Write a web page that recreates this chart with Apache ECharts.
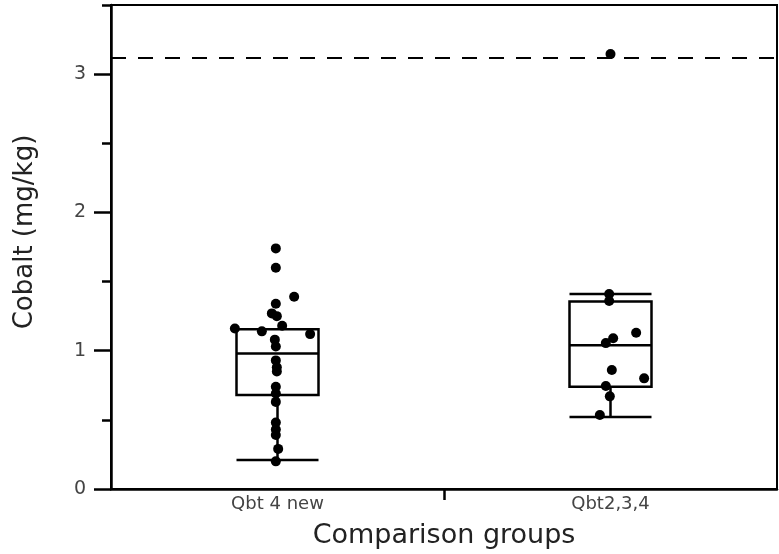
<!DOCTYPE html>
<html>
<head>
<meta charset="utf-8">
<script src="https://cdn.jsdelivr.net/npm/echarts@6/dist/echarts.min.js"></script>
<style>
  html, body { margin: 0; padding: 0; background: #fff; }
  #chart { width: 779px; height: 554px; }
</style>
</head>
<body>
<div id="chart"></div>
<script>
// groups on the x axis
const groups = ["Qbt 4 new", "Qbt2,3,4"];

// box statistics per group (mg/kg)
const whiskerLow = [0.21, 0.52];
const q1 = [0.68, 0.74];
const median = [0.98, 1.04];
const q3 = [1.155, 1.355];
const whiskerHigh = [1.155, 1.41];

// individual samples: jittered position (0..2 across the two groups) and value
const sampleX = [
  0.495, 0.495, 0.55, 0.495, 0.483, 0.498, 0.372, 0.453, 0.514, 0.598,
  0.492, 0.495, 0.495, 0.498, 0.498, 0.495, 0.495, 0.495, 0.495, 0.495,
  0.495, 0.502, 0.495,
  1.5, 1.496, 1.496, 1.577, 1.508, 1.486, 1.504, 1.601, 1.486, 1.498, 1.468
];
const sampleY = [
  1.74, 1.60, 1.39, 1.34, 1.27, 1.25, 1.16, 1.14, 1.18, 1.12,
  1.08, 1.03, 0.93, 0.88, 0.85, 0.74, 0.69, 0.63, 0.48, 0.43,
  0.39, 0.29, 0.20,
  3.145, 1.41, 1.36, 1.13, 1.09, 1.055, 0.86, 0.80, 0.745, 0.67, 0.535
];

// background level (dashed line)
const referenceLevel = 3.12;

// y tick values
const majorTicks = [0, 1, 2, 3];
const minorTicks = [0.5, 1.5, 2.5, 3.5];

const chart = echarts.init(document.getElementById("chart"));

const boxData = groups.map((g, i) => [whiskerLow[i], q1[i], median[i], q3[i], whiskerHigh[i]]);
const points = sampleX.map((x, i) => [x, sampleY[i]]);

chart.setOption({
  animation: false,
  backgroundColor: "#fff",
  grid: {
    left: 111,
    right: 2,
    top: 5,
    bottom: 65,
    show: true,
    borderColor: "#000",
    borderWidth: 2
  },
  xAxis: [
    {
      type: "category",
      position: "bottom",
      data: groups,
      axisLine: { lineStyle: { color: "#000", width: 2.5 } },
      axisTick: { show: false },
      axisLabel: {
        color: "#444",
        fontFamily: "DejaVu Sans",
        fontSize: 18,
        margin: 6
      },
      name: "Comparison groups",
      nameLocation: "middle",
      nameGap: 33,
      nameTextStyle: {
        color: "#222",
        fontFamily: "DejaVu Sans",
        fontSize: 27
      }
    },
    {
      type: "value",
      position: "bottom",
      min: 0,
      max: 2,
      interval: 1,
      axisLine: { show: false },
      axisTick: {
        show: true,
        customValues: [1],
        length: 11,
        lineStyle: { color: "#000", width: 2.5 }
      },
      axisLabel: { show: false },
      splitLine: { show: false }
    }
  ],
  yAxis: [
    {
      type: "value",
      position: "left",
      min: 0,
      max: 3.5,
      interval: 0.5,
      axisLine: { show: true, lineStyle: { color: "#000", width: 2.5 } },
      axisTick: {
        show: true,
        customValues: majorTicks,
        length: 17,
        lineStyle: { color: "#000", width: 2.5 }
      },
      axisLabel: {
        customValues: majorTicks,
        color: "#444",
        fontFamily: "DejaVu Sans",
        fontSize: 19,
        margin: 25
      },
      splitLine: { show: false },
      name: "Cobalt (mg/kg)",
      nameLocation: "middle",
      nameGap: 73,
      nameTextStyle: {
        color: "#222",
        fontFamily: "DejaVu Sans",
        fontSize: 26,
        padding: [0, 0, 0, 30]
      }
    },
    {
      type: "value",
      position: "left",
      min: 0,
      max: 3.5,
      interval: 0.5,
      axisLine: { show: false },
      axisTick: {
        show: true,
        customValues: minorTicks,
        length: 9,
        lineStyle: { color: "#000", width: 2.5 }
      },
      axisLabel: { show: false },
      splitLine: { show: false }
    }
  ],
  series: [
    {
      type: "boxplot",
      xAxisIndex: 0,
      yAxisIndex: 0,
      data: boxData,
      boxWidth: [82, 82],
      itemStyle: {
        color: "transparent",
        borderColor: "#000",
        borderWidth: 2.5
      },
      z: 2
    },
    {
      type: "scatter",
      xAxisIndex: 1,
      yAxisIndex: 0,
      data: points,
      symbolSize: 10,
      itemStyle: { color: "#000", opacity: 1 },
      z: 3,
      markLine: {
        silent: true,
        symbol: "none",
        label: { show: false },
        lineStyle: { color: "#000", width: 2, type: [15, 12] },
        data: [{ yAxis: referenceLevel }]
      }
    }
  ]
});
</script>
</body>
</html>
